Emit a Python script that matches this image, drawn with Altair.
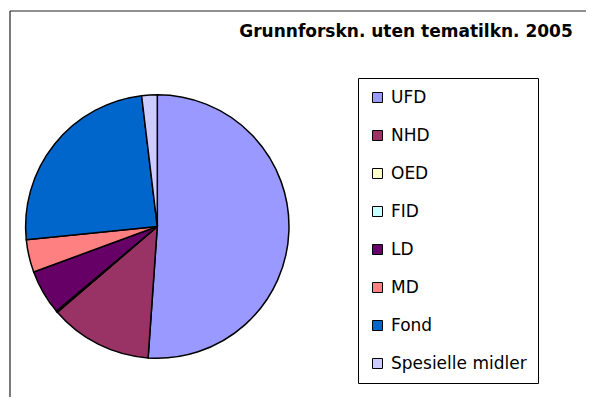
import altair as alt
import pandas as pd

categories = ["UFD", "NHD", "OED", "FID", "LD", "MD", "Fond", "Spesielle midler"]
values = [51.1, 12.6, 0.12, 0.06, 5.5, 4.0, 24.7, 1.9]
colors = ["#9999FF", "#993366", "#FFFFCC", "#CCFFFF", "#660066", "#FF8080", "#0066CC", "#CCCCFF"]
title_text = "Grunnforskn. uten tematilkn. 2005"

df = pd.DataFrame({"cat": categories, "value": values, "idx": list(range(len(categories)))})

W, H = 578, 389
cx, cy, R = 157.3 - 8, 226.5 - 8, 131.7

pie = alt.Chart(df).mark_arc(outerRadius=R, stroke="#000000", strokeWidth=1.5).encode(
    theta=alt.Theta("value:Q", stack=True),
    color=alt.Color(
        "cat:N",
        scale=alt.Scale(domain=categories, range=colors),
        sort=categories,
        legend=alt.Legend(
            title=None,
            orient="none",
            legendX=350,
            legendY=70,
            strokeColor="#000000",
            fillColor="#FFFFFF",
            padding=11,
            symbolType="square",
            symbolSize=100,
            symbolStrokeColor="#000000",
            symbolStrokeWidth=1,
            labelFont="DejaVu Sans",
            labelFontSize=17,
            labelColor="#000000",
            labelOffset=5,
            rowPadding=20,
            labelLimit=300,
        ),
    ),
    order=alt.Order("idx:Q"),
    x=alt.value(cx),
    y=alt.value(cy),
)

frame_df = pd.DataFrame({"k": [0]})
left_line = alt.Chart(frame_df).mark_rule(color="#222222", strokeWidth=1.2).encode(
    x=alt.value(2), y=alt.value(3), y2=alt.value(H)
)
top_line = alt.Chart(frame_df).mark_rule(color="#222222", strokeWidth=1.2).encode(
    x=alt.value(2), x2=alt.value(W), y=alt.value(3)
)

title_df = pd.DataFrame({"t": [title_text]})
title = alt.Chart(title_df).mark_text(
    font="DejaVu Sans", fontSize=17, fontWeight="bold", align="center", baseline="middle", color="#000000"
).encode(text="t:N", x=alt.value(406 - 8), y=alt.value(32 - 8))

chart = alt.layer(left_line, top_line, pie, title).properties(
    width=W, height=H, padding=0, autosize=alt.AutoSizeParams(type="none"),
    background="#FFFFFF",
).configure_view(strokeWidth=0)

chart.save("out.html", embed_options={"renderer": "svg", "actions": False})
